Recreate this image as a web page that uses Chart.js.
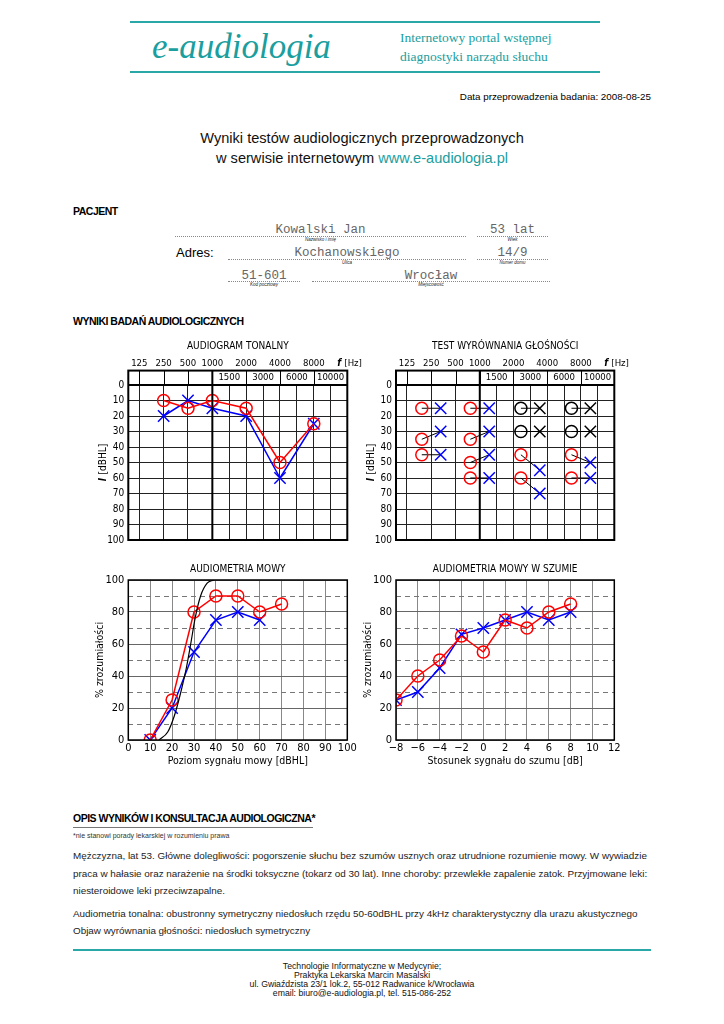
<!DOCTYPE html>
<html><head><meta charset="utf-8">
<script src="https://cdn.jsdelivr.net/npm/chart.js@4.4.1/dist/chart.umd.min.js"></script>
<style>
html,body{margin:0;padding:0;background:#fff;}
#page{position:relative;width:724px;height:1024px;overflow:hidden;font-family:'Liberation Sans',Arial,sans-serif;color:#000;}
#page div{position:absolute;white-space:nowrap;line-height:1;}
.teal{color:#1a9e9e;}
.rule{height:0;border-top:2px solid #2aa7a7;}
.dots{height:0;border-top:1px dotted #888;}
.fld{font-family:'Liberation Mono',monospace;font-size:12.5px;color:#666;text-align:center;}
.sub{font-size:4.5px;font-style:italic;color:#222;text-align:center;}
.head{font-weight:bold;font-size:10.5px;letter-spacing:-0.5px;}
.txt{font-size:9.9px;color:#222;}
.foot{font-size:8.7px;width:724px;text-align:center;left:0;color:#111;}
canvas{position:absolute;}
</style></head>
<body><div id="page">
<div class="rule" style="left:130px;top:21px;width:470px"></div>
<div class="rule" style="left:130px;top:71px;width:470px"></div>
<div class="teal" style="left:152px;top:29px;font-family:'Liberation Serif',serif;font-style:italic;font-size:35px">e-audiologia</div>
<div class="teal" style="left:400px;top:31px;font-family:'Liberation Serif',serif;font-size:13.5px">Internetowy portal wstępnej</div>
<div class="teal" style="left:400px;top:50px;font-family:'Liberation Serif',serif;font-size:13.5px">diagnostyki narządu słuchu</div>
<div style="right:73px;top:92px;font-size:9.8px">Data przeprowadzenia badania: 2008-08-25</div>
<div style="left:0;width:724px;text-align:center;top:131px;font-size:14.6px;color:#111">Wyniki testów audiologicznych przeprowadzonych</div>
<div style="left:0;width:724px;text-align:center;top:151px;font-size:14.6px;color:#111">w serwisie internetowym <span class="teal">www.e-audiologia.pl</span></div>

<div class="head" style="left:73px;top:206px">PACJENT</div>
<div class="dots" style="left:175px;top:236px;width:291px"></div>
<div class="fld" style="left:175px;top:224px;width:291px">Kowalski Jan</div>
<div class="sub" style="left:175px;top:238px;width:291px">Nazwisko i imię</div>
<div class="dots" style="left:477px;top:236px;width:71px"></div>
<div class="fld" style="left:477px;top:224px;width:71px">53 lat</div>
<div class="sub" style="left:477px;top:238px;width:71px">Wiek</div>
<div style="left:176px;top:246px;font-size:13px">Adres:</div>
<div class="dots" style="left:228px;top:259px;width:238px"></div>
<div class="fld" style="left:228px;top:247px;width:238px">Kochanowskiego</div>
<div class="sub" style="left:228px;top:261px;width:238px">Ulica</div>
<div class="dots" style="left:477px;top:259px;width:71px"></div>
<div class="fld" style="left:477px;top:247px;width:71px">14/9</div>
<div class="sub" style="left:477px;top:261px;width:71px">Numer domu</div>
<div class="dots" style="left:228px;top:281px;width:72px"></div>
<div class="fld" style="left:228px;top:270px;width:72px">51-601</div>
<div class="sub" style="left:228px;top:283px;width:72px">Kod pocztowy</div>
<div class="dots" style="left:312px;top:281px;width:238px"></div>
<div class="fld" style="left:312px;top:270px;width:238px">Wrocław</div>
<div class="sub" style="left:312px;top:283px;width:238px">Miejscowość</div>

<div class="head" style="left:73px;top:316px">WYNIKI BADAŃ AUDIOLOGICZNYCH</div>

<canvas id="tone" width="310" height="215" style="left:60px;top:335px"></canvas>
<canvas id="balance" width="310" height="215" style="left:330px;top:335px"></canvas>
<canvas id="speech" width="310" height="215" style="left:60px;top:555px"></canvas>
<canvas id="noise" width="310" height="215" style="left:330px;top:555px"></canvas>

<div class="head" style="left:73px;top:813px">OPIS WYNIKÓW I KONSULTACJA AUDIOLOGICZNA*</div>
<div style="left:73px;top:827px;width:240px;height:0;border-top:1.5px solid #777"></div>
<div style="left:73px;top:832px;font-size:7px;color:#333">*nie stanowi porady lekarskiej w rozumieniu prawa</div>
<div class="txt" style="left:73px;top:851px">Mężczyzna, lat 53. Główne dolegliwości: pogorszenie słuchu bez szumów usznych oraz utrudnione rozumienie mowy. W wywiadzie</div>
<div class="txt" style="left:73px;top:869px">praca w hałasie oraz narażenie na środki toksyczne (tokarz od 30 lat). Inne choroby: przewlekłe zapalenie zatok. Przyjmowane leki:</div>
<div class="txt" style="left:73px;top:886px">niesteroidowe leki przeciwzapalne.</div>
<div class="txt" style="left:73px;top:909px">Audiometria tonalna: obustronny symetryczny niedosłuch rzędu 50-60dBHL przy 4kHz charakterystyczny dla urazu akustycznego</div>
<div class="txt" style="left:73px;top:926px">Objaw wyrównania głośności: niedosłuch symetryczny</div>

<div class="rule" style="left:73px;top:949px;width:578px"></div>
<div class="foot" style="top:962px">Technologie Informatyczne w Medycynie;</div>
<div class="foot" style="top:971px">Praktyka Lekarska Marcin Masalski</div>
<div class="foot" style="top:980px">ul. Gwiaździsta 23/1 lok.2, 55-012 Radwanice k/Wrocławia</div>
<div class="foot" style="top:989px">email: biuro@e-audiologia.pl, tel. 515-086-252</div>
</div>
<script>
// audiogram form
const FREQ_TOP = [125, 250, 500, 1000, 2000, 4000, 8000];
const FREQ_MID = [1500, 3000, 6000, 10000];
const FREQ_GRID = [125, 250, 500, 1000, 1500, 2000, 3000, 4000, 6000, 8000, 10000];

// tonal audiogram [dBHL]
const TONE_FREQ = [250, 500, 1000, 2000, 4000, 8000];
const TONE_RIGHT = [10, 15, 10, 15, 50, 25];
const TONE_LEFT = [20, 10, 15, 20, 60, 25];

// loudness balance: right ear level -> matched left ear level
const BAL_FREQ = [250, 1000, 3000, 8000];
const BAL_RIGHT = [[15, 35, 45], [15, 35, 50, 60], [15, 30, 45, 60], [15, 30, 45, 60]];
const BAL_LEFT = [[15, 30, 45], [15, 30, 45, 60], [15, 30, 55, 70], [15, 30, 50, 60]];
const BAL_REF = [[0, 0, 0], [0, 0, 0, 0], [1, 1, 0, 0], [1, 1, 0, 0]];

// speech audiometry [%]
const SPEECH_RIGHT_LVL = [10, 20, 30, 40, 50, 60, 70];
const SPEECH_RIGHT = [0, 25, 80, 90, 90, 80, 85];
const SPEECH_LEFT_LVL = [10, 20, 30, 40, 50, 60];
const SPEECH_LEFT = [0, 20, 55, 75, 80, 75];
const NORM_LVL = [14, 18, 21, 24, 26.5, 28.5, 30.5, 33, 36, 39];
const NORM = [0, 5, 15, 30, 45, 60, 76, 90, 98, 100];

// speech in noise [%]
const SNR = [-8, -6, -4, -2, 0, 2, 4, 6, 8];
const NOISE_RIGHT = [25, 40, 50, 65, 55, 75, 70, 80, 85];
const NOISE_LEFT = [25, 30, 45, 66, 70, 75, 80, 75, 80];

const RED = '#ff0000', BLUE = '#0000ff';
const FONT = '"DejaVu Sans Condensed","DejaVu Sans",sans-serif';
Chart.defaults.font.family = FONT;
Chart.defaults.color = '#000';
Chart.defaults.animation = false;
Chart.defaults.plugins.legend.display = false;
Chart.defaults.plugins.tooltip.enabled = false;

// columns up to 1 kHz are wider than the half-octave columns above
function fx(f) { const i = FREQ_GRID.indexOf(f); return i <= 3 ? 0.65 + 1.44 * i : 4.97 + (i - 3); }
const pts = (xs, ys) => ys.map((v, i) => ({ x: xs[i], y: v }));

function ear(data, right) {
  return { data, borderColor: right ? RED : BLUE, borderWidth: 1.5, pointStyle: right ? 'circle' : 'crossRot',
    pointRadius: right ? 6 : 8, pointBorderColor: right ? RED : BLUE, pointBorderWidth: 1.5,
    pointBackgroundColor: 'rgba(0,0,0,0)', tension: 0, yAxisID: 'y' };
}

const formPlugin = {
  id: 'form',
  afterDraw(chart, args, o) {
    const { ctx, chartArea: a, scales: { x, y } } = chart;
    const top = y.getPixelForValue(-9.3), px = f => x.getPixelForValue(fx(f));
    ctx.save();
    ctx.strokeStyle = '#000'; ctx.lineWidth = 1;
    ctx.beginPath();
    FREQ_TOP.forEach(f => { ctx.moveTo(Math.round(px(f)) + 0.5, top); ctx.lineTo(Math.round(px(f)) + 0.5, a.top); });
    ctx.stroke();
    ctx.lineWidth = 2;
    ctx.beginPath();
    ctx.moveTo(px(1000), top); ctx.lineTo(px(1000), a.bottom);
    ctx.moveTo(a.left, a.top); ctx.lineTo(a.right, a.top);
    ctx.stroke();
    ctx.strokeRect(a.left, top, a.right - a.left, a.bottom - top);
    ctx.fillStyle = '#000'; ctx.textAlign = 'center'; ctx.textBaseline = 'middle';
    ctx.font = '9.5px ' + FONT;
    FREQ_TOP.forEach(f => ctx.fillText(String(f), px(f), top - 7));
    FREQ_MID.forEach((f, i) => {
      const l = px(FREQ_TOP[3 + i]), r = i < 3 ? px(FREQ_TOP[4 + i]) : a.right;
      ctx.fillText(String(f), (l + r) / 2, (top + a.top) / 2);
    });
    ctx.textAlign = 'left';
    ctx.font = 'italic bold 10px ' + FONT;
    ctx.fillText('f', a.right - 10, top - 7);
    ctx.font = '9.5px ' + FONT;
    ctx.fillText('[Hz]', a.right - 3, top - 7);
    ctx.textAlign = 'center';
    ctx.font = '10px ' + FONT;
    ctx.fillText(o.title, (a.left + a.right) / 2, top - 24);
    ctx.translate(a.left - 25, (a.top + a.bottom) / 2);
    ctx.rotate(-Math.PI / 2);
    ctx.textAlign = 'left';
    const w1 = 4, w2 = ctx.measureText(' [dBHL]').width;
    ctx.font = 'italic bold 10px ' + FONT;
    ctx.fillText('I', -(w1 + w2) / 2, 0);
    ctx.font = '10px ' + FONT;
    ctx.fillText(' [dBHL]', -(w1 + w2) / 2 + w1, 0);
    ctx.restore();
  }
};

const framePlugin = {
  id: 'frame',
  afterDraw(chart, args, o) {
    const { ctx, chartArea: a } = chart;
    ctx.save();
    ctx.strokeStyle = '#000'; ctx.lineWidth = 1.5;
    ctx.strokeRect(a.left, a.top, a.right - a.left, a.bottom - a.top);
    ctx.fillStyle = '#000'; ctx.textAlign = 'center'; ctx.textBaseline = 'middle';
    ctx.font = '10px ' + FONT;
    ctx.fillText(o.title, (a.left + a.right) / 2, a.top - 11);
    ctx.restore();
  }
};

function formScales() {
  return {
    x: { type: 'linear', min: 0, max: 12.95, afterFit: s => { s.height = 0; },
      afterBuildTicks: s => { s.ticks = FREQ_GRID.map(f => ({ value: fx(f) })); },
      ticks: { display: false }, border: { display: false },
      grid: { color: '#222', drawTicks: false, lineWidth: c => (c.tick && c.tick.value === fx(1000) ? 0 : 1) } },
    y: { min: 0, max: 100, reverse: true, afterFit: s => { s.width = 40; },
      ticks: { stepSize: 10, padding: 4, font: { size: 10 } }, border: { display: false },
      grid: { color: '#222', drawTicks: false } }
  };
}

new Chart(document.getElementById('tone'), {
  type: 'line',
  data: { datasets: [
    ear(pts(TONE_FREQ.map(fx), TONE_RIGHT), true),
    ear(pts(TONE_FREQ.map(fx), TONE_LEFT), false)
  ] },
  options: { responsive: false, devicePixelRatio: 1, layout: { padding: { left: 28.3, right: 22.7, top: 50, bottom: 9 } },
    scales: formScales(), plugins: { form: { title: 'AUDIOGRAM TONALNY' } } },
  plugins: [formPlugin]
});

const balSets = [];
BAL_FREQ.forEach((f, i) => BAL_RIGHT[i].forEach((r, j) => {
  const ref = BAL_REF[i][j];
  balSets.push({ data: [{ x: fx(f) - 0.56, y: r }, { x: fx(f) + 0.56, y: BAL_LEFT[i][j] }],
    borderColor: '#000', borderWidth: 1, pointStyle: ['circle', 'crossRot'], pointRadius: [6, 8],
    pointBorderColor: ref ? ['#000', '#000'] : [RED, BLUE], pointBorderWidth: 1.5,
    pointBackgroundColor: 'rgba(0,0,0,0)', yAxisID: 'y' });
}));

new Chart(document.getElementById('balance'), {
  type: 'line',
  data: { datasets: balSets },
  options: { responsive: false, devicePixelRatio: 1, layout: { padding: { left: 26, right: 25.7, top: 50, bottom: 9 } },
    scales: formScales(), plugins: { form: { title: 'TEST WYRÓWNANIA GŁOŚNOŚCI' } } },
  plugins: [formPlugin]
});

function pctScales(xOpts, xTitle) {
  return {
    x: Object.assign({ type: 'linear', afterFit: s => { s.height = 30; },
      border: { display: false }, grid: { color: '#888', drawTicks: false },
      title: { display: true, text: xTitle, font: { size: 10.5 }, padding: { top: 0, bottom: 2 } } }, xOpts),
    y: { min: 0, max: 100, afterFit: s => { s.width = 40; },
      ticks: { stepSize: 20, padding: 4, font: { size: 11 } }, border: { display: false },
      grid: { color: '#666', drawTicks: false },
      title: { display: true, text: '% zrozumiałości', font: { size: 10.5 }, padding: { top: 6, bottom: 0 } } },
    yd: { position: 'left', min: 0, max: 100, afterFit: s => { s.width = 0; },
      afterBuildTicks: s => { s.ticks = [10, 30, 50, 70, 90].map(v => ({ value: v })); },
      ticks: { display: false }, border: { display: false, dash: [5, 4] },
      grid: { color: '#777', drawTicks: false } }
  };
}

new Chart(document.getElementById('speech'), {
  type: 'line',
  data: { datasets: [
    { data: pts(NORM_LVL, NORM), borderColor: '#000', borderWidth: 1.2, pointRadius: 0,
      cubicInterpolationMode: 'monotone', yAxisID: 'y' },
    ear(pts(SPEECH_RIGHT_LVL, SPEECH_RIGHT), true),
    ear(pts(SPEECH_LEFT_LVL, SPEECH_LEFT), false)
  ] },
  options: { responsive: false, devicePixelRatio: 1, layout: { padding: { left: 28.3, right: 22.7, top: 25, bottom: 0 } },
    scales: pctScales({ min: 0, max: 100, ticks: { stepSize: 10, padding: 2, autoSkip: false, maxRotation: 0, font: { size: 11 } } },
      'Poziom sygnału mowy [dBHL]'),
    plugins: { frame: { title: 'AUDIOMETRIA MOWY' } } },
  plugins: [framePlugin]
});

new Chart(document.getElementById('noise'), {
  type: 'line',
  data: { datasets: [
    ear(pts(SNR, NOISE_RIGHT), true),
    ear(pts(SNR, NOISE_LEFT), false)
  ] },
  options: { responsive: false, devicePixelRatio: 1, layout: { padding: { left: 26, right: 25.7, top: 25, bottom: 0 } },
    scales: pctScales({ min: -8, max: 12, ticks: { stepSize: 2, padding: 2, autoSkip: false, maxRotation: 0, font: { size: 11 },
      callback: v => (v < 0 ? '\u2212' + Math.abs(v) : String(v)) } }, 'Stosunek sygnału do szumu [dB]'),
    plugins: { frame: { title: 'AUDIOMETRIA MOWY W SZUMIE' } } },
  plugins: [framePlugin]
});
</script>
</body></html>
